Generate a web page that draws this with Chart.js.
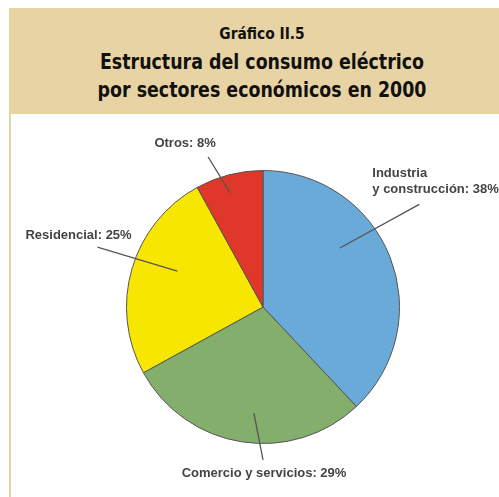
<!DOCTYPE html>
<html>
<head>
<meta charset="utf-8">
<script src="https://cdn.jsdelivr.net/npm/chart.js@4.4.0/dist/chart.umd.min.js"></script>
<style>
    html, body { margin: 0; padding: 0; background: #ffffff; }
    #page { position: relative; width: 499px; height: 497px; overflow: hidden; }
    #header {
        position: absolute; left: 9px; top: 8px; width: 490px; height: 106px;
        background: #e8d3a5;
    }
    #sideLine {
        position: absolute; left: 9px; top: 114px; width: 2px; height: 383px;
        background: #e8d3a5;
    }
    .t { position: absolute; left: 0; width: 524px; text-align: center; color: #111;
         font-family: "DejaVu Sans", sans-serif; font-stretch: condensed; white-space: nowrap;
         font-weight: bold; transform-origin: 50% 50%; }
    #t1 { top: 24px; font-size: 16px; transform: scaleX(0.96); }
    #t2 { top: 49px; font-size: 22px; transform: scaleX(0.88); }
    #t3 { top: 77px; font-size: 22px; transform: scaleX(0.88); }
    #wrap { position: absolute; left: 0; top: 0; width: 499px; height: 497px; }
</style>
</head>
<body>
<div id="page">
    <div id="header"></div>
    <div id="sideLine"></div>
    <div class="t" id="t1">Gráfico II.5</div>
    <div class="t" id="t2">Estructura del consumo eléctrico</div>
    <div class="t" id="t3">por sectores económicos en 2000</div>
    <div id="wrap"><canvas id="pie"></canvas></div>
</div>
<script>
// Data
const sectors = ['Industria y construcción', 'Comercio y servicios', 'Residencial', 'Otros'];
const shares = [38, 29, 25, 8];
const sliceColors = ['#6aaad8', '#84ae6c', '#f7e600', '#e0372b'];

// Label text lines and leader-line placement (angle in degrees clockwise from top,
// radii as fraction of the pie radius, text offset from the outer end of the line)
const labelLines = [
    ['Industria', 'y construcción: 38%'],
    ['Comercio y servicios: 29%'],
    ['Residencial: 25%'],
    ['Otros: 8%']
];
const labelPlacement = [
    { a1: 52.5, r1: 0.71, a2: 56.7, r2: 1.37, dx: -47, dy: -31, align: 'left' },
    { a1: 184.9, r1: 0.78, a2: 180, r2: 1.12, dx: 1, dy: 14, align: 'center' },
    { a1: 292.7, r1: 0.68, a2: 289.9, r2: 1.29, dx: -72, dy: -12, align: 'left' },
    { a1: 344, r1: 0.87, a2: 339.9, r2: 1.17, dx: -23, dy: -14, align: 'center' }
];

const pieLabels = {
    id: 'pieLabels',
    afterDraw(chart) {
        const ctx = chart.ctx;
        const meta = chart.getDatasetMeta(0);
        const arc = meta.data[0];
        const cx = arc.x, cy = arc.y, r = arc.outerRadius;
        const pt = (deg, f) => {
            const rad = (deg - 90) * Math.PI / 180;
            return [cx + Math.cos(rad) * r * f, cy + Math.sin(rad) * r * f];
        };
        ctx.save();
        labelPlacement.forEach((p, i) => {
            const [x1, y1] = pt(p.a1, p.r1);
            const [x2, y2] = pt(p.a2, p.r2);
            ctx.strokeStyle = '#555555';
            ctx.lineWidth = 1.3;
            ctx.beginPath();
            ctx.moveTo(x1, y1);
            ctx.lineTo(x2, y2);
            ctx.stroke();

            ctx.fillStyle = '#444444';
            ctx.font = 'bold 13px "Liberation Sans", Arial, sans-serif';
            ctx.textAlign = p.align;
            ctx.textBaseline = 'middle';
            labelLines[i].forEach((line, j) => {
                ctx.fillText(line, x2 + p.dx, y2 + p.dy + j * 16);
            });
        });
        ctx.restore();
    }
};

new Chart(document.getElementById('pie'), {
    type: 'pie',
    data: {
        labels: sectors,
        datasets: [{
            data: shares,
            backgroundColor: sliceColors,
            borderColor: '#555555',
            borderWidth: 1,
            hoverOffset: 0
        }]
    },
    options: {
        responsive: true,
        maintainAspectRatio: false,
        animation: false,
        events: [],
        layout: { padding: { left: 126, right: 99, top: 170, bottom: 53 } },
        plugins: {
            legend: { display: false },
            tooltip: { enabled: false }
        }
    },
    plugins: [pieLabels]
});
</script>
</body>
</html>
